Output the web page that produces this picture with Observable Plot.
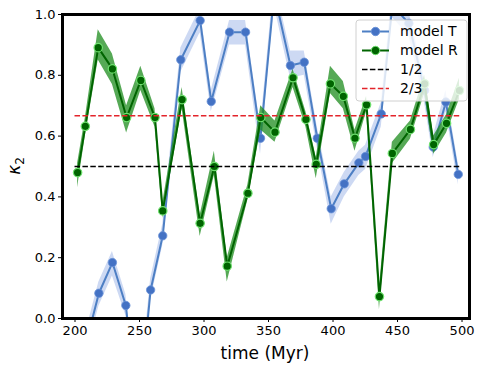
<!DOCTYPE html>
<html><head><meta charset="utf-8">
<script src="https://cdn.jsdelivr.net/npm/d3@7"></script>
<script src="https://cdn.jsdelivr.net/npm/@observablehq/plot@0.6"></script>
<style>body{margin:0;background:#fff;} #chart svg{font-family:"DejaVu Sans",sans-serif;background:#fff;}</style>
</head><body><div id="chart"></div>
<script>
// model T (blue)
const timeT = [208, 218.5, 229, 239.4, 249, 258.6, 268, 282, 297, 305.6, 319.8, 332.2, 343.8, 354.4, 367, 377.7, 387.8, 398.6, 408.7, 420, 425.2, 437.4, 446, 458.8, 471, 477.7, 487.5, 497.1];
const valT  = [-0.09, 0.083, 0.184, 0.043, -0.33, 0.094, 0.272, 0.851, 0.98, 0.714, 0.942, 0.942, 0.593, 1.07, 0.832, 0.843, 0.593, 0.361, 0.443, 0.512, 0.533, 0.673, 1.03, 0.971, 0.75, 0.564, 0.712, 0.474];
const loT   = [-0.13, 0.04, 0.14, 0.01, -0.37, 0.06, 0.24, 0.81, 0.94, 0.68, 0.90, 0.90, 0.54, 1.03, 0.79, 0.80, 0.56, 0.31, 0.40, 0.47, 0.49, 0.63, 0.99, 0.93, 0.71, 0.53, 0.68, 0.44];
const hiT   = [-0.05, 0.12, 0.22, 0.08, -0.29, 0.13, 0.31, 0.89, 1.02, 0.75, 0.98, 0.98, 0.63, 1.11, 0.88, 0.88, 0.63, 0.40, 0.48, 0.55, 0.57, 0.71, 1.07, 1.01, 0.79, 0.60, 0.75, 0.51];
// model R (green)
const timeR = [202, 208, 218, 229, 240, 251, 262, 268, 283, 297, 308, 318, 334, 344, 355, 369, 379, 387, 398, 408, 417, 426, 436, 446, 460, 471, 478, 488, 498];
const valR  = [0.48, 0.632, 0.891, 0.821, 0.661, 0.783, 0.661, 0.354, 0.72, 0.313, 0.50, 0.172, 0.412, 0.661, 0.613, 0.792, 0.655, 0.507, 0.772, 0.731, 0.593, 0.703, 0.072, 0.543, 0.622, 0.772, 0.572, 0.642, 0.75];
const loR   = [0.43, 0.60, 0.85, 0.77, 0.61, 0.75, 0.63, 0.33, 0.69, 0.27, 0.47, 0.12, 0.39, 0.62, 0.58, 0.76, 0.63, 0.46, 0.74, 0.69, 0.55, 0.68, 0.03, 0.51, 0.59, 0.74, 0.54, 0.61, 0.72];
const hiR   = [0.51, 0.66, 0.95, 0.87, 0.70, 0.83, 0.69, 0.38, 0.76, 0.34, 0.55, 0.20, 0.44, 0.70, 0.65, 0.82, 0.68, 0.53, 0.83, 0.78, 0.62, 0.73, 0.10, 0.58, 0.65, 0.80, 0.60, 0.67, 0.79];
// reference lines
const refNames  = ["1/2", "2/3"];
const refValues = [0.5, 2/3];
const refColors = ["#000000", "#e3242b"];
const refStart = 200, refEnd = 500;
const xTicks = [200, 250, 300, 350, 400, 450, 500];
const yTicks = [0, 0.2, 0.4, 0.6, 0.8, 1.0];

const dataT = timeT.map((t, i) => ({t, v: valT[i], lo: loT[i], hi: hiT[i]}));
const dataR = timeR.map((t, i) => ({t, v: valR[i], lo: loR[i], hi: hiR[i]}));
const refs = refNames.map((n, i) => ({name: n, v: refValues[i], c: refColors[i], x1: refStart, x2: refEnd}));

const blueLine = "#4d7fc4", blueDot = "#4472c4", blueBand = "#5b82d6";
const greenLine = "#006400", greenBand = "#1e8c1e", greenEdge = "#6ee06e";

const plot = Plot.plot({
  width: 479, height: 369,
  marginLeft: 62, marginRight: 10, marginTop: 14, marginBottom: 51,
  x: {domain: [190.3, 505.8], ticks: xTicks, label: null},
  y: {domain: [0, 1], ticks: yTicks, label: null},
  style: {fontSize: "13px", fontFamily: "DejaVu Sans, sans-serif", color: "#000", background: "#fff"},
  marks: [
    Plot.areaY(dataT, {x: "t", y1: "lo", y2: "hi", fill: blueBand, fillOpacity: 0.3, clip: true}),
    Plot.lineY(dataT, {x: "t", y: "v", stroke: blueLine, strokeWidth: 2, clip: true}),
    Plot.dot(dataT, {x: "t", y: "v", r: 4.2, fill: blueDot, stroke: "#6b93d8", strokeWidth: 0.8, clip: true}),
    Plot.areaY(dataR, {x: "t", y1: "lo", y2: "hi", fill: greenBand, fillOpacity: 0.75, clip: true}),
    Plot.lineY(dataR, {x: "t", y: "v", stroke: greenLine, strokeWidth: 2, clip: true}),
    Plot.dot(dataR, {x: "t", y: "v", r: 4.2, fill: greenLine, stroke: greenEdge, strokeWidth: 1.2, clip: true}),
    Plot.ruleY(refs, {y: "v", x1: "x1", x2: "x2", stroke: "c", strokeWidth: 1.5, strokeDasharray: "5.5,2.4"}),
    Plot.axisX({ticks: xTicks, tickSize: 4, tickPadding: 3, tickFormat: d3.format("d"), label: null, fontSize: 13}),
    Plot.axisY({ticks: yTicks, tickSize: 4, tickPadding: 3, tickFormat: d3.format(".1f"), label: null, fontSize: 13}),
    Plot.frame({stroke: "#000", strokeWidth: 3})
  ]
});

const svg = d3.select(plot);
svg.attr("font-family", "DejaVu Sans, sans-serif");
// x axis title
svg.append("text").attr("x", 265).attr("y", 359).attr("text-anchor", "middle")
  .attr("font-size", 17).attr("fill", "#000").text("time (Myr)");
// y axis title
const yl = svg.append("text").attr("transform", "translate(20,166) rotate(-90)")
  .attr("text-anchor", "middle").attr("font-size", 17).attr("fill", "#000");
yl.append("tspan").attr("font-style", "italic").text("κ");
yl.append("tspan").attr("font-size", 12).attr("dy", 4).text("2");

// legend
const lg = svg.append("g").attr("text-anchor", "start");
lg.append("rect").attr("x", 356).attr("y", 20).attr("width", 111).attr("height", 81).attr("rx", 3)
  .attr("fill", "#fff").attr("fill-opacity", 0.8).attr("stroke", "#d0d0d0");
const entries = [
  {label: "model T", color: blueLine, dot: blueDot, edge: "#6b93d8", dash: null, w: 2},
  {label: "model R", color: greenLine, dot: greenLine, edge: greenEdge, dash: null, w: 2},
  {label: refNames[0], color: refColors[0], dot: null, dash: "5.5,2.4", w: 1.5},
  {label: refNames[1], color: refColors[1], dot: null, dash: "5.5,2.4", w: 1.5}
];
entries.forEach((e, i) => {
  const y = 31.5 + i * 19;
  const l = lg.append("line").attr("x1", 362).attr("x2", 389).attr("y1", y).attr("y2", y)
    .attr("stroke", e.color).attr("stroke-width", e.w);
  if (e.dash) l.attr("stroke-dasharray", e.dash);
  if (e.dot) lg.append("circle").attr("cx", 375.5).attr("cy", y).attr("r", 4.2)
    .attr("fill", e.dot).attr("stroke", e.edge).attr("stroke-width", 1);
  lg.append("text").attr("x", 400).attr("y", y).attr("dy", "0.35em").attr("font-size", 14)
    .attr("text-anchor", "start").attr("fill", "#000").text(e.label);
});

document.getElementById("chart").appendChild(plot);
</script>
</body></html>
